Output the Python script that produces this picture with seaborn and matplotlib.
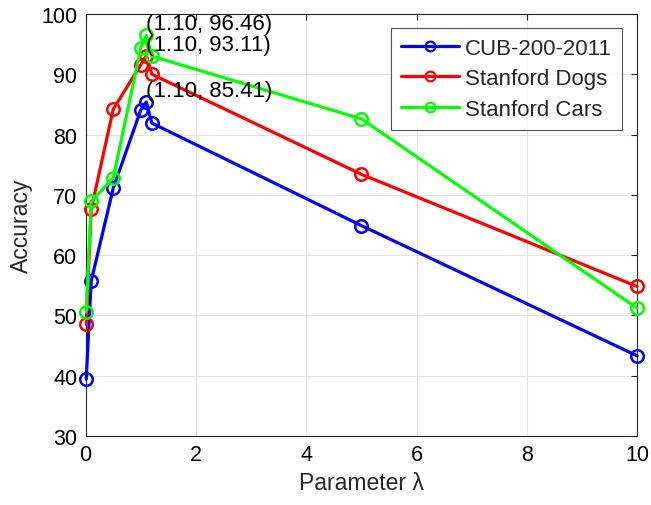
import matplotlib
matplotlib.use("Agg")
import matplotlib.pyplot as plt
import seaborn as sns
import pandas as pd

# Sweep of the trade-off parameter lambda and top-1 accuracy per dataset
lambdas = [0.01, 0.1, 0.5, 1.0, 1.1, 1.2, 5.0, 10.0]
cub = [39.4, 55.7, 71.1, 84.1, 85.41, 81.9, 64.9, 43.3]
dogs = [48.5, 67.6, 84.2, 91.6, 93.11, 90.0, 73.4, 54.8]
cars = [50.6, 68.9, 72.8, 94.4, 96.46, 93.0, 82.6, 51.2]
series_names = ["CUB-200-2011", "Stanford Dogs", "Stanford Cars"]
series_colors = ["#0000ff", "#ff0000", "#00ff00"]

# Data tips shown on the peak of each curve
tips = [(1.10, 96.46), (1.10, 93.11), (1.10, 85.41)]

x_ticks = [0, 2, 4, 6, 8, 10]
y_ticks = [30, 40, 50, 60, 70, 80, 90, 100]

df = pd.concat(
    [pd.DataFrame({"lam": lambdas, "acc": vals, "dataset": name})
     for name, vals in zip(series_names, [cub, dogs, cars])],
    ignore_index=True,
)

sns.set_style("white")
plt.rcParams["font.family"] = ["Liberation Sans", "DejaVu Sans"]

fig = plt.figure(figsize=(6.51, 5.06), dpi=100)
ax = fig.add_axes([0.1316, 0.1364, 0.847, 0.8340])

sns.lineplot(
    data=df, x="lam", y="acc", hue="dataset", hue_order=series_names,
    palette=series_colors, marker="o", markersize=9,
    linewidth=2.3, sort=False, ax=ax, zorder=3,
)
# open circles drawn in the line colour, not clipped at the axes edges
for ln in ax.lines:
    ln.set_markerfacecolor("none")
    ln.set_markeredgecolor(ln.get_color())
    ln.set_markeredgewidth(1.8)
    ln.set_clip_on(False)

for dx, dy in tips:
    ax.annotate(f"({dx:.2f}, {dy:.2f})", xy=(dx, dy), xytext=(0, 4.3),
                textcoords="offset points", ha="left", va="baseline",
                fontsize=16, color="black", zorder=5, annotation_clip=False)

ax.set_xlim(0, 10)
ax.set_ylim(30, 100)
ax.set_xticks(x_ticks)
ax.set_yticks(y_ticks)
ax.grid(True, color="#e3e3e3", linewidth=0.8)
ax.set_axisbelow(True)
ax.tick_params(direction="in", length=4, width=0.8, labelsize=15.5,
               top=True, right=True, colors="#262626", labelcolor="black", pad=6)
for s in ax.spines.values():
    s.set_color("#262626")
    s.set_linewidth(0.8)

ax.set_xlabel("Parameter λ", fontsize=16.5, labelpad=4)
ax.set_ylabel("Accuracy", fontsize=16.5, labelpad=6)

leg = ax.legend(loc="upper right", bbox_to_anchor=(0.973, 0.967), fontsize=16,
                frameon=True, fancybox=False, handlelength=2.6, handletextpad=0.3,
                borderpad=0.45, labelspacing=0.42, borderaxespad=0)
leg.get_frame().set_edgecolor("#262626")
leg.get_frame().set_linewidth(0.8)
leg.set_zorder(6)
for h in leg.legend_handles:
    h.set_markersize(7)
    h.set_markerfacecolor("none")
    h.set_markeredgecolor(h.get_color())
    h.set_markeredgewidth(1.6)

fig.savefig("out.png", dpi=100)
